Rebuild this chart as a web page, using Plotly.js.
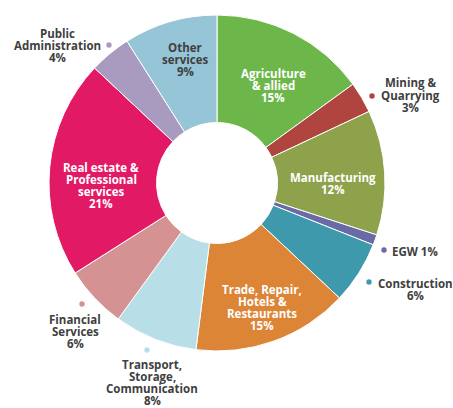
<!DOCTYPE html>
<html>
<head>
<meta charset="utf-8">
<script src="https://cdn.plot.ly/plotly-3.0.1.min.js"></script>
<style>
  html, body { margin: 0; padding: 0; background: #fff; }
  #chart { width: 453px; height: 408px; }
</style>
</head>
<body>
<div id="chart"></div>
<script>
  // sector shares (%), clockwise from 12 o'clock
  var sectors = ['Agriculture<br>& allied', 'Mining &<br>Quarrying', 'Manufacturing', 'EGW', 'Construction',
    'Trade, Repair,<br>Hotels &<br>Restaurants', 'Transport,<br>Storage,<br>Communication',
    'Financial<br>Services', 'Real estate &<br>Professional<br>services', 'Public<br>Administration', 'Other<br>services'];
  var shares = [15, 3, 12, 1, 6, 15, 8, 6, 21, 4, 9];
  var colors = ['#6cb64a', '#b0443f', '#8da24b', '#6a6aa6', '#3f99ad', '#dc8537',
    '#b8dfe7', '#d59293', '#e21a66', '#a99bc0', '#95c5d6'];

  var W = 453, H = 408;
  function px(x) { return x / W; }
  function py(y) { return 1 - y / H; }

  // label placement in pixels: [center x, first line y, inside?, dot x, dot y]
  var labelPos = [
    [273, 73, true],
    [410, 83, false, 372, 96],
    [333, 177, true],
    [415, 251, false, 384, 250],
    [415, 283, false, 369, 282],
    [262, 289, true],
    [152, 364, false, 147, 350],
    [75, 319, false, 82, 304],
    [101, 167, true],
    [58, 33, false, 109, 45],
    [185, 47, false]
  ];

  var annotations = [];
  var shapes = [];
  sectors.forEach(function (name, i) {
    var lines = name.split('<br>');
    if (name === 'EGW') lines = [name + ' ' + shares[i] + '%'];
    else lines.push(shares[i] + '%');
    var p = labelPos[i];
    var col = p[2] ? '#ffffff' : '#404040';
    lines.forEach(function (t, k) {
      annotations.push({
        x: px(p[0]), y: py(p[1] + k * 12.3), xref: 'paper', yref: 'paper',
        text: t, showarrow: false, xanchor: 'center', yanchor: 'middle',
        font: {family: 'Open Sans, sans-serif', size: 11.5, color: col, weight: 'bold'}
      });
    });
    if (p[3] !== undefined) {
      shapes.push({
        type: 'circle', xref: 'paper', yref: 'paper',
        xsizemode: 'pixel', ysizemode: 'pixel',
        xanchor: px(p[3]), yanchor: py(p[4]),
        x0: -2.7, x1: 2.7, y0: -2.7, y1: 2.7,
        fillcolor: colors[i], line: {width: 0}
      });
    }
  });

  var trace = {
    type: 'pie',
    labels: sectors,
    values: shares,
    sort: false,
    direction: 'clockwise',
    rotation: 0,
    hole: 0.36,
    textinfo: 'none',
    hoverinfo: 'label+percent',
    marker: {colors: colors, line: {color: '#ffffff', width: 1}},
    domain: {x: [49 / W, 385 / W], y: [1 - 351 / H, 1 - 15 / H]},
    showlegend: false
  };

  var layout = {
    width: W,
    height: H,
    margin: {l: 0, r: 0, t: 0, b: 0},
    paper_bgcolor: '#ffffff',
    showlegend: false,
    annotations: annotations,
    shapes: shapes
  };

  Plotly.newPlot('chart', [trace], layout, {displayModeBar: false, staticPlot: true});
</script>
</body>
</html>
